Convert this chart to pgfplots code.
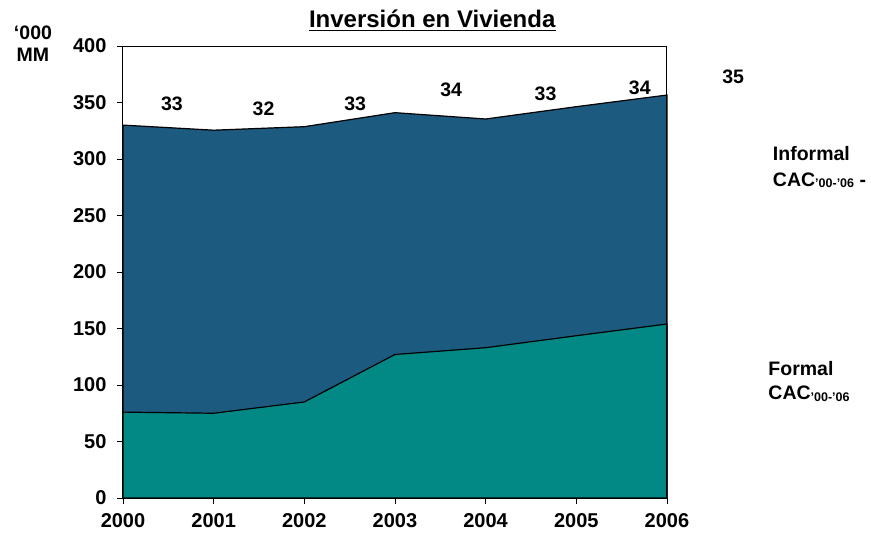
\documentclass[border=0pt]{standalone}
\usepackage{fontspec}
\setmainfont{Liberation Sans}
\usepackage{pgfplots}
\pgfplotsset{compat=1.18}
\definecolor{informal}{RGB}{28,90,128}
\definecolor{formal}{RGB}{2,137,133}
\newcommand{\cacsub}{{\fontsize{12.5}{12.5}\selectfont\raisebox{-0.25ex}{’00-’06}}}
\begin{document}
\begin{tikzpicture}
\begin{axis}[
  width=544pt, height=452pt, scale only axis,
  xmin=2000, xmax=2006, ymin=0, ymax=400,
  xtick={2000,...,2006}, ytick={0,50,...,400},
  tick align=outside, tick pos=left, major tick length=6pt,
  tick style={black, line width=0.8pt},
  axis line style={black, line width=1pt},
  axis on top,
  clip=false,
  /pgf/number format/assume math mode=true,
  x tick label style={/pgf/number format/1000 sep={}, font=\fontsize{20}{20}\selectfont\bfseries, yshift=-6pt},
  y tick label style={font=\fontsize{20}{20}\selectfont\bfseries, xshift=-7pt},
]
\addplot[fill=informal, draw=black, line width=1.2pt] coordinates {
(2000,330) (2001,325.5) (2002,328.6) (2003,341) (2004,335.4) (2005,346.3) (2006,356.6)} |- (axis cs:2000,0) -- cycle;
\addplot[fill=formal, draw=black, line width=1.2pt] coordinates {
(2000,76) (2001,75) (2002,85) (2003,127) (2004,133) (2005,143.6) (2006,154)} |- (axis cs:2000,0) -- cycle;

\node[font=\fontsize{19.5}{19.5}\selectfont\bfseries] at (axis cs:2000.54,348.7) {33};
\node[font=\fontsize{19.5}{19.5}\selectfont\bfseries] at (axis cs:2001.55,344.2) {32};
\node[font=\fontsize{19.5}{19.5}\selectfont\bfseries] at (axis cs:2002.56,348.7) {33};
\node[font=\fontsize{19.5}{19.5}\selectfont\bfseries] at (axis cs:2003.62,361) {34};
\node[font=\fontsize{19.5}{19.5}\selectfont\bfseries] at (axis cs:2004.66,357.5) {33};
\node[font=\fontsize{19.5}{19.5}\selectfont\bfseries] at (axis cs:2005.70,363) {34};
\node[font=\fontsize{19.5}{19.5}\selectfont\bfseries] at (axis cs:2006.73,372.6) {35};
\node[anchor=west, align=left, font=\fontsize{19.5}{26}\selectfont\bfseries] at (axis cs:2007.13,292.9) {Informal\\CAC\cacsub{} -};
\node[anchor=west, align=left, font=\fontsize{19.5}{24}\selectfont\bfseries] at (axis cs:2007.08,103.1) {Formal\\CAC\cacsub};
\node[align=center, font=\fontsize{19.5}{22}\selectfont\bfseries] at (axis cs:1999.007,401.8) {‘000\\MM};
\coordinate (T) at (axis cs:2003.41,423.9);
\coordinate (O) at (rel axis cs:0,0);
\end{axis}
\node[inner sep=0pt, font=\fontsize{24}{24}\selectfont\bfseries, name=ttl] at (T) {Inversión en Vivienda};
\draw[line width=1.6pt] ([yshift=-3pt]ttl.base west) -- ([yshift=-3pt]ttl.base east);
\pgfresetboundingbox
\path (O) ++(-123pt,-41pt) rectangle ++(871pt,539pt);
\end{tikzpicture}
\end{document}
